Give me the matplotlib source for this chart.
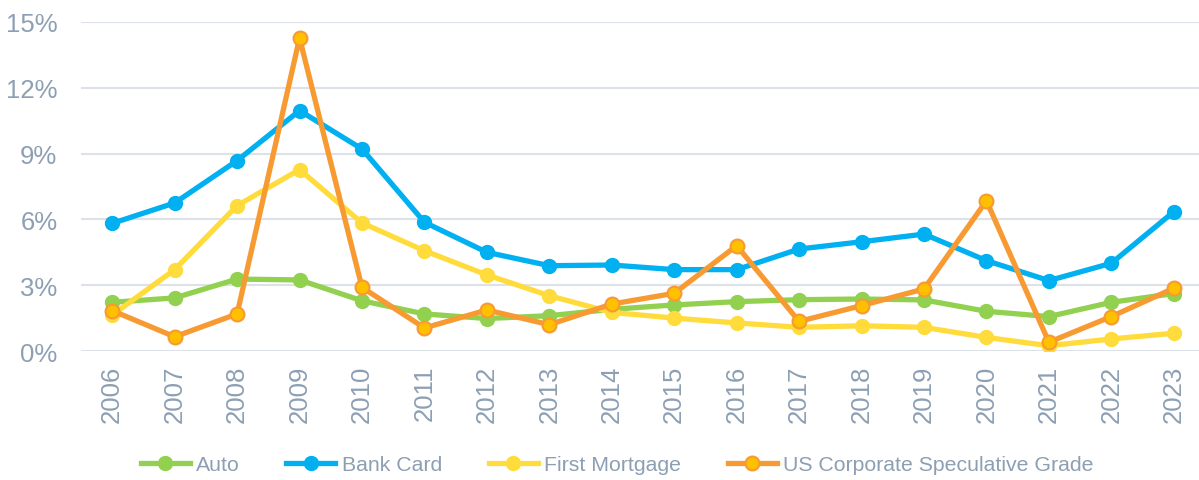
import matplotlib.pyplot as plt

years = [str(y) for y in range(2006, 2024)]

auto = [2.22, 2.42, 3.28, 3.24, 2.29, 1.69, 1.48, 1.61, 1.90, 2.10, 2.25, 2.34, 2.37, 2.33, 1.81, 1.57, 2.22, 2.62]
bank_card = [5.82, 6.75, 8.68, 10.96, 9.21, 5.87, 4.50, 3.89, 3.92, 3.71, 3.71, 4.65, 4.98, 5.33, 4.12, 3.21, 4.00, 6.35]
first_mortgage = [1.64, 3.71, 6.63, 8.27, 5.84, 4.57, 3.47, 2.52, 1.76, 1.50, 1.28, 1.08, 1.15, 1.08, 0.62, 0.24, 0.55, 0.81]
us_corp_spec = [1.84, 0.65, 1.69, 14.27, 2.90, 1.05, 1.87, 1.20, 2.14, 2.63, 4.80, 1.35, 2.07, 2.83, 6.85, 0.40, 1.57, 2.86]

yticks = [0, 3, 6, 9, 12, 15]
ytick_labels = ['0%', '3%', '6%', '9%', '12%', '15%']

plt.rcParams['font.family'] = ['Liberation Sans', 'DejaVu Sans']
label_col = '#8D9FB3'

fig = plt.figure(figsize=(11.99, 4.81), dpi=100)
ax = fig.add_axes([81 / 1199, 1 - 352 / 481, 1124 / 1199, 329 / 481])

x = list(range(len(years)))
lw = 3.8
ms = 10
ax.plot(x, auto, color='#92D050', lw=lw, marker='o', ms=ms, label='Auto')
ax.plot(x, bank_card, color='#00B0F0', lw=lw, marker='o', ms=ms, label='Bank Card')
ax.plot(x, first_mortgage, color='#FFDC3C', lw=lw, marker='o', ms=ms, label='First Mortgage')
ax.plot(x, us_corp_spec, color='#F79A32', lw=lw, marker='o', ms=ms,
        markerfacecolor='#FFC000', markeredgecolor='#F79A32', markeredgewidth=1.5,
        label='US Corporate Speculative Grade')

ax.set_xlim(-0.5, len(years) - 0.5)
ax.set_ylim(0, 15)
ax.set_yticks(yticks)
ax.set_yticklabels(ytick_labels)
ax.set_xticks(x)
ax.set_xticklabels(years, rotation=90)
ax.tick_params(axis='both', length=0, labelsize=18.5, labelcolor=label_col)
ax.tick_params(axis='y', pad=17)
ax.tick_params(axis='x', pad=10)
ax.grid(axis='y', color='#DDE2E8', lw=1.5)
ax.set_axisbelow(True)
for s in ax.spines.values():
    s.set_visible(False)

fig.legend(loc='center', bbox_to_anchor=(617 / 1199, 1 - 466 / 481), ncol=4,
           frameon=False, fontsize=15.3, labelcolor=label_col, handlelength=2.3,
           handletextpad=0.3, columnspacing=2.2, markerscale=1.0)

fig.savefig('out.png', dpi=100)
